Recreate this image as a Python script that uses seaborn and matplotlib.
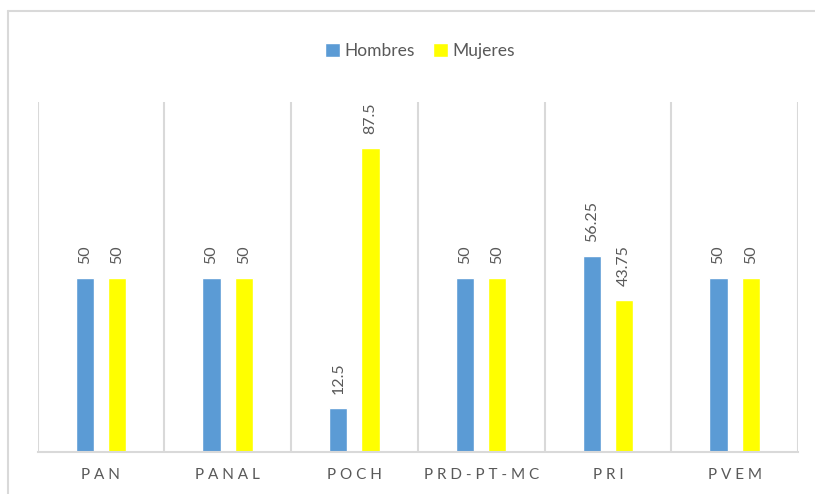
import matplotlib
matplotlib.use("Agg")
import matplotlib.pyplot as plt
import seaborn as sns
import pandas as pd
from matplotlib.lines import Line2D

# Datos
partidos = ['PAN', 'PANAL', 'POCH', 'PRD-PT-MC', 'PRI', 'PVEM']
hombres = [50, 50, 12.5, 50, 56.25, 50]
mujeres = [50, 50, 87.5, 50, 43.75, 50]
series = ['Hombres', 'Mujeres']
colores = ['#5B9BD5', '#FFFF00']

df = pd.DataFrame({
    'partido': partidos * 2,
    'sexo': ['Hombres'] * len(partidos) + ['Mujeres'] * len(partidos),
    'valor': hombres + mujeres,
})

sns.set_style('white')
plt.rcParams['font.family'] = ['Lato', 'DejaVu Sans']

gris = '#595959'
linea = '#D9D9D9'

fig = plt.figure(figsize=(8.15, 4.94), dpi=100)
W, H = 815, 494
ax = fig.add_axes([37.5 / W, (H - 451.5) / H, (798 - 37.5) / W, (451.5 - 102) / H])

sns.barplot(data=df, x='partido', y='valor', hue='sexo', order=partidos,
            hue_order=series, palette=colores, width=0.51, gap=0.44,
            saturation=1, ax=ax, legend=True)

ax.set_xlim(-0.5, len(partidos) - 0.5)
ax.set_ylim(0, 100.6)

# lineas verticales entre categorias
for i in range(len(partidos) + 1):
    ax.axvline(i - 0.5, color=linea, lw=1.5, zorder=0)

for s in ['top', 'left', 'right']:
    ax.spines[s].set_visible(False)
ax.spines['bottom'].set_color(linea)
ax.spines['bottom'].set_linewidth(1.5)

for cont in ax.containers:
    ax.bar_label(cont, labels=[f'{v:g}' for v in cont.datavalues],
                 rotation=90, padding=10, fontsize=11.5, color=gris)

ax.set_yticks([])
ax.set_xlabel('')
ax.set_ylabel('')
ax.set_xticks(range(len(partidos)))
ax.set_xticklabels([' '.join(p) for p in partidos], fontsize=11, color=gris)
ax.tick_params(axis='x', length=0, pad=12)

ax.legend(loc='center', bbox_to_anchor=(420 / W, 1 - 51 / H),
          bbox_transform=fig.transFigure, ncol=2, frameon=False,
          fontsize=12.5, handlelength=0.85, handleheight=0.85,
          handletextpad=0.25, columnspacing=1.1, labelcolor=gris)

# marco del grafico
fig.add_artist(Line2D([8 / W, 8 / W], [0, 1 - 11 / H], transform=fig.transFigure,
                      color=linea, lw=1.5))
fig.add_artist(Line2D([8 / W, 1], [1 - 11 / H, 1 - 11 / H], transform=fig.transFigure,
                      color=linea, lw=1.5))

fig.savefig('out.png', dpi=100)
